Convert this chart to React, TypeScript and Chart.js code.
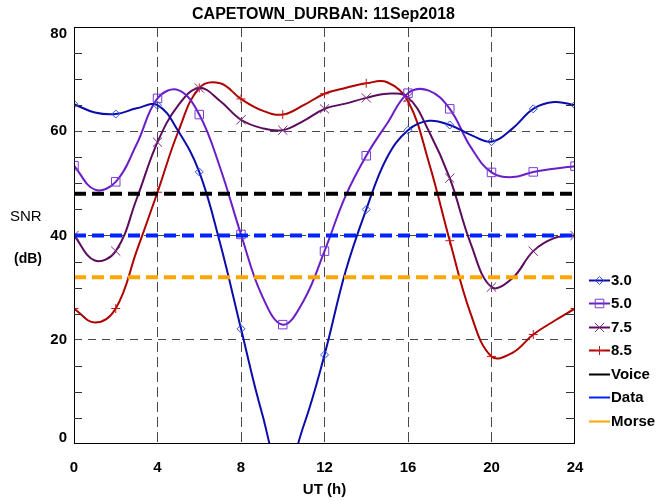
import React, { useEffect, useRef } from 'react';
import { Chart, registerables } from 'chart.js';

Chart.register(...registerables);

const chartTitle = 'CAPETOWN_DURBAN: 11Sep2018';
const xTitle = 'UT (h)';
const yTitleLines = ['SNR', '(dB)'];

const hours = [0, 1, 2, 3, 4, 5, 6, 7, 8, 9, 10, 11, 12, 13, 14, 15, 16, 17, 18, 19, 20, 21, 22, 23, 24];

const snr30 = [65.2, 63.6, 63.3, 64.4, 65.0, 60.0, 52.2, 38.5, 22.1, 6.0, -6.0, 3.5, 17.1, 33.0, 45.0, 55.0, 60.2, 62.0, 61.2, 59.3, 58.0, 60.5, 64.3, 65.6, 65.0];
const snr50 = [53.4, 48.8, 50.3, 57.5, 66.3, 67.9, 63.2, 53.0, 40.2, 28.5, 22.9, 27.5, 37.0, 47.5, 55.3, 61.5, 67.3, 67.8, 64.3, 57.0, 52.1, 51.2, 52.2, 52.8, 53.3];
const snr75 = [40.0, 35.2, 37.0, 47.0, 57.9, 65.0, 68.3, 65.8, 62.2, 60.6, 60.2, 62.0, 64.3, 65.3, 66.4, 67.2, 66.5, 60.0, 51.0, 38.5, 30.1, 31.8, 37.0, 39.5, 40.0];
const snr85 = [26.0, 23.3, 26.0, 37.0, 48.3, 60.0, 68.3, 69.2, 66.2, 64.0, 63.2, 65.0, 67.2, 68.3, 69.2, 69.4, 65.8, 54.0, 39.0, 25.0, 16.8, 17.5, 21.0, 23.6, 26.0];

const seriesLabels = ['3.0', '5.0', '7.5', '8.5'];
const refLabels = ['Voice', 'Data', 'Morse'];
const refLevels = [48, 40, 32];

const xTickValues = [0, 4, 8, 12, 16, 20, 24];
const yTickValues = [0, 20, 40, 60, 80];
const yMinorTicks = [5, 10, 15, 25, 30, 35, 45, 50, 55, 65, 70, 75];

const seriesColors = ['#0c0cac', '#6a1ec8', '#5c0c5c', '#b00000'];
const markerColors = ['#3050e0', '#7a3ad8', '#7a2a7a', '#c01818'];
const markerStyles = ['rectRot', 'rect', 'crossRot', 'cross'];
const markerRadii = [4, 6, 6.5, 4.5];
const refColors = ['#000000', '#0022ff', '#ffa500'];

const FONT = '"Liberation Sans", Arial, sans-serif';

function drawMarker(ctx: CanvasRenderingContext2D, style: string, x: number, y: number, r: number) {
  ctx.beginPath();
  if (style === 'rectRot') {
    ctx.moveTo(x, y - r);
    ctx.lineTo(x + r, y);
    ctx.lineTo(x, y + r);
    ctx.lineTo(x - r, y);
    ctx.closePath();
  } else if (style === 'rect') {
    const s = Math.SQRT1_2 * r;
    ctx.rect(x - s, y - s, 2 * s, 2 * s);
  } else if (style === 'crossRot') {
    const s = Math.SQRT1_2 * r;
    ctx.moveTo(x - s, y - s);
    ctx.lineTo(x + s, y + s);
    ctx.moveTo(x - s, y + s);
    ctx.lineTo(x + s, y - s);
  } else {
    ctx.moveTo(x - r, y);
    ctx.lineTo(x + r, y);
    ctx.moveTo(x, y - r);
    ctx.lineTo(x, y + r);
  }
  ctx.stroke();
}

const overlayPlugin = {
  id: 'overlay',
  afterDraw(chart: any) {
    const { ctx, chartArea: a, scales } = chart;
    const y = scales.y;
    ctx.save();
    ctx.setLineDash([]);
    // plot border
    ctx.strokeStyle = '#000';
    ctx.lineWidth = 1;
    ctx.strokeRect(Math.round(a.left) + 0.5, Math.round(a.top) + 0.5, Math.round(a.right - a.left) - 1, Math.round(a.bottom - a.top) - 1);
    // minor ticks
    ctx.strokeStyle = '#333';
    ctx.beginPath();
    yMinorTicks.forEach((v) => {
      const py = Math.round(y.getPixelForValue(v)) + 0.5;
      ctx.moveTo(a.left, py);
      ctx.lineTo(a.left + 8, py);
      ctx.moveTo(a.right - 9, py);
      ctx.lineTo(a.right, py);
    });
    ctx.stroke();
    // y tick labels
    ctx.fillStyle = '#000';
    ctx.font = `bold 15px ${FONT}`;
    ctx.textAlign = 'right';
    ctx.textBaseline = 'middle';
    yTickValues.forEach((v) => {
      let py = y.getPixelForValue(v);
      py = Math.min(Math.max(py, a.top + 6.5), a.bottom - 6);
      ctx.fillText(String(v), a.left - 7, py);
    });
    // title
    ctx.textAlign = 'center';
    ctx.font = `bold 16px ${FONT}`;
    ctx.fillText(chartTitle, (a.left + a.right) / 2 - 1, 14.5);
    // y title
    ctx.font = `15px ${FONT}`;
    ctx.textAlign = 'left';
    ctx.fillText(yTitleLines[0], 10, 216.5);
    ctx.font = `bold 14px ${FONT}`;
    ctx.fillText(yTitleLines[1], 14, 259);
    // x title
    ctx.textAlign = 'center';
    ctx.font = `bold 15px ${FONT}`;
    ctx.fillText(xTitle, (a.left + a.right) / 2, 489.5);
    // legend
    const lx0 = 589;
    const lx1 = 610;
    const ly0 = 279.5;
    const step = 23.55;
    ctx.textAlign = 'left';
    ctx.font = `bold 15px ${FONT}`;
    const items = [
      ...seriesLabels.map((l, i) => ({ label: l, color: seriesColors[i], marker: markerStyles[i], mc: markerColors[i], r: markerRadii[i] })),
      ...refLabels.map((l, i) => ({ label: l, color: refColors[i], marker: '', mc: '', r: 0 })),
    ];
    items.forEach((it, i) => {
      const py = Math.round(ly0 + i * step) + 0.5;
      ctx.strokeStyle = it.color;
      ctx.lineWidth = 2;
      ctx.beginPath();
      ctx.moveTo(lx0, py);
      ctx.lineTo(lx1, py);
      ctx.stroke();
      if (it.marker) {
        ctx.lineWidth = 1;
        ctx.strokeStyle = it.mc;
        drawMarker(ctx, it.marker, (lx0 + lx1) / 2, py, it.r);
      }
      ctx.fillStyle = '#000';
      ctx.fillText(it.label, lx1 + 1, py + 0.5);
    });
    ctx.restore();
  },
};

export default function App() {
  const canvasRef = useRef<HTMLCanvasElement | null>(null);

  useEffect(() => {
    const canvas = canvasRef.current;
    if (!canvas) return;

    const seriesData = [snr30, snr50, snr75, snr85];
    const curveSets = seriesData.map((vals, i) => ({
      label: seriesLabels[i],
      data: hours.map((h, j) => ({ x: h, y: vals[j] })),
      borderColor: seriesColors[i],
      backgroundColor: 'transparent',
      borderWidth: 2,
      pointStyle: markerStyles[i],
      pointRadius: (c: any) => (c.dataIndex % 2 === 0 ? markerRadii[i] : 0),
      pointBorderColor: markerColors[i],
      pointBackgroundColor: 'transparent',
      pointBorderWidth: 1,
      pointHoverRadius: 0,
      tension: 0.4,
      fill: false,
      order: 2,
    }));
    const refSets = refLevels.map((lvl, i) => ({
      label: refLabels[i],
      data: [
        { x: hours[0], y: lvl },
        { x: hours[hours.length - 1], y: lvl },
      ],
      borderColor: refColors[i],
      backgroundColor: 'transparent',
      borderWidth: 4,
      borderDash: [12, 6],
      pointRadius: 0,
      fill: false,
      order: 1,
    }));

    const chart = new Chart(canvas, {
      type: 'line',
      data: { datasets: [...refSets, ...curveSets] as any },
      plugins: [overlayPlugin],
      options: {
        animation: false,
        responsive: false,
        devicePixelRatio: 1,
        layout: { padding: { left: 0, right: 85, top: 27, bottom: 0 } },
        plugins: {
          legend: { display: false },
          title: { display: false },
          tooltip: { enabled: false },
        },
        scales: {
          x: {
            type: 'linear',
            min: 0,
            max: 24,
            afterBuildTicks: (s: any) => {
              s.ticks = xTickValues.map((v) => ({ value: v }));
            },
            afterFit: (s: any) => {
              s.height = 57;
            },
            grid: {
              drawTicks: false,
              lineWidth: 1,
              color: (c: any) => (c.tick && (c.tick.value === 0 || c.tick.value === 24) ? 'rgba(0,0,0,0)' : '#484848'),
            },
            border: { display: false, dash: [10, 5] },
            ticks: {
              padding: 15,
              color: '#000',
              font: { family: FONT, size: 15, weight: 'bold' },
              maxRotation: 0,
              autoSkip: false,
              callback: (v: any) => String(v),
            },
          },
          y: {
            type: 'linear',
            min: 0,
            max: 80,
            afterBuildTicks: (s: any) => {
              s.ticks = yTickValues.map((v) => ({ value: v }));
            },
            afterFit: (s: any) => {
              s.width = 74;
            },
            grid: {
              drawTicks: false,
              lineWidth: 1,
              color: (c: any) => (c.tick && (c.tick.value === 0 || c.tick.value === 80) ? 'rgba(0,0,0,0)' : '#484848'),
            },
            border: { display: false, dash: [8, 6] },
            ticks: { display: false },
          },
        },
      },
    });

    return () => {
      chart.destroy();
    };
  }, []);

  return (
    <div style={{ position: 'absolute', left: 0, top: 0, width: 660, height: 501, background: '#fff' }}>
      <canvas ref={canvasRef} width={660} height={501} style={{ display: 'block' }} />
    </div>
  );
}
